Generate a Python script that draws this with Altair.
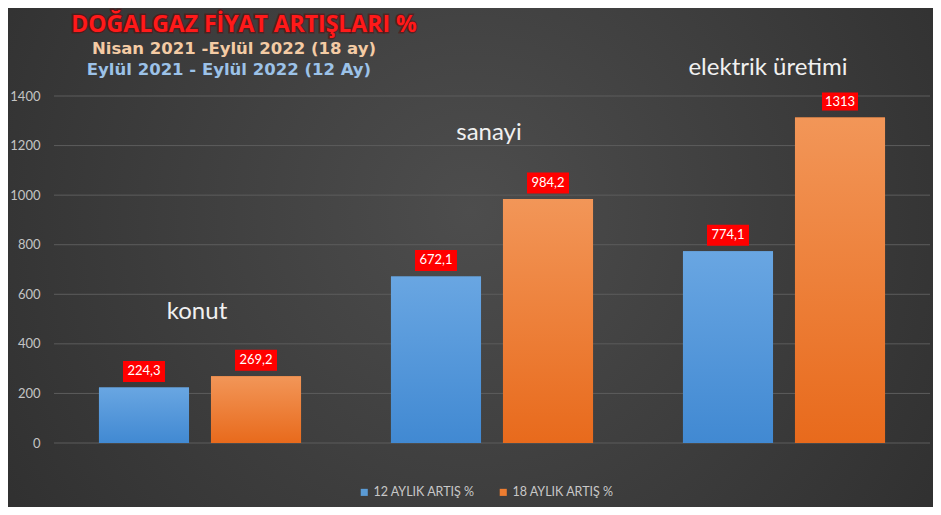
import altair as alt
import pandas as pd

categories = ["konut", "sanayi", "elektrik üretimi"]
series = ["12 AYLIK ARTIŞ %", "18 AYLIK ARTIŞ %"]
values_12 = [224.3, 672.1, 774.1]
values_18 = [269.2, 984.2, 1313]
ann_y = [528, 1251, 1513]
y_ticks = [0, 200, 400, 600, 800, 1000, 1200, 1400]

title_main = "DOĞALGAZ FİYAT ARTIŞLARI %"
title_l2 = "Nisan 2021 -Eylül 2022 (18 ay)"
title_l3 = "Eylül 2021 - Eylül 2022 (12 Ay)"


def fmt(v):
    return f"{v:g}".replace(".", ",")


rows = []
for c, a, b in zip(categories, values_12, values_18):
    rows.append({"cat": c, "series": series[0], "value": a, "label": fmt(a)})
    rows.append({"cat": c, "series": series[1], "value": b, "label": fmt(b)})
df = pd.DataFrame(rows)
ann = pd.DataFrame({"cat": categories, "value": ann_y})
grid = pd.DataFrame({"value": y_ticks})

W, H = 876, 347
PL, PT, PR, PB = 46, 88, 3, 64

x_enc = alt.X("cat:N", sort=categories,
              scale=alt.Scale(domain=categories, paddingInner=0.308, paddingOuter=0.154),
              axis=None)
xo_enc = alt.XOffset("series:N", sort=series,
                     scale=alt.Scale(domain=series, paddingInner=0.196, paddingOuter=0))
y_scale = alt.Scale(domain=[0, 1400], nice=False)
y_axis = alt.Axis(title=None, values=y_ticks, format="d", grid=False, domain=False, ticks=False,
                  labelColor="#c4c4c4", labelFont="Lato", labelFontSize=13,
                  labelPadding=14, zindex=1)
y_enc = alt.Y("value:Q", scale=y_scale, axis=y_axis)

bg = alt.Chart(alt.Data(values=[{}])).mark_rect(
    fill={"gradient": "radial", "x1": 0.5, "y1": 0.45, "r1": 0, "x2": 0.5, "y2": 0.45, "r2": 0.75,
          "stops": [{"offset": 0, "color": "#4d4d4d"}, {"offset": 1, "color": "#292929"}]},
    strokeWidth=0
).encode(x=alt.value(-PL), x2=alt.value(W + PR), y=alt.value(-PT), y2=alt.value(H + PB))

gridlines = alt.Chart(grid).mark_rule(color="#5c5c5c", strokeWidth=1).encode(y=y_enc)

base = alt.Chart(df)

bars = base.mark_bar().encode(
    x=x_enc, xOffset=xo_enc, y=y_enc,
    color=alt.Color("series:N", sort=series,
                    scale=alt.Scale(domain=series, range=["#5b9bd5", "#ed7d31"]),
                    legend=alt.Legend(title=None, orient="none", legendX=304, legendY=390,
                                      direction="horizontal", symbolType="square",
                                      symbolSize=50, symbolStrokeWidth=0,
                                      labelColor="#c8c8c8", labelFont="Lato",
                                      labelFontSize=12.5, labelOffset=3,
                                      columnPadding=22, zindex=1))
)


def grad(top, bottom):
    return {"gradient": "linear", "x1": 0, "y1": 0, "x2": 0, "y2": 1,
            "stops": [{"offset": 0, "color": top}, {"offset": 1, "color": bottom}]}


bars_blue = base.mark_bar(color=grad("#69a6e2", "#4189d2")).encode(
    x=x_enc, xOffset=xo_enc, y=y_enc
).transform_filter(alt.datum.series == series[0])
bars_orange = base.mark_bar(color=grad("#f29658", "#e86a1c")).encode(
    x=x_enc, xOffset=xo_enc, y=y_enc
).transform_filter(alt.datum.series == series[1])

boxes = base.mark_point(
    shape="M-1,-0.5L1,-0.5L1,0.5L-1,0.5Z", filled=True, color="#ff0000",
    opacity=1, strokeWidth=0, yOffset=-16
).encode(
    x=x_enc, xOffset=xo_enc, y=y_enc,
    size=alt.Size("boxsize:Q", scale=None, legend=None)
).transform_calculate(boxsize="pow(6*length(datum.label)+12, 2)")

labels = base.mark_text(
    color="#ffffff", font="Lato", fontSize=13, baseline="middle", yOffset=-16
).encode(
    x=x_enc, xOffset=xo_enc, y=y_enc, text="label:N"
)

ann_base = alt.Chart(ann)
ann_text = ann_base.mark_text(
    color="#f0f0f0", font="Lato", fontSize=24, baseline="middle", dx=-3
).encode(x=x_enc, y=y_enc, text="cat:N").transform_filter(
    alt.datum.cat != categories[2])
ann_text2 = ann_base.mark_text(
    color="#f0f0f0", font="Lato", fontSize=24, baseline="middle", dx=-16
).encode(x=x_enc, y=y_enc, text="cat:N").transform_filter(
    alt.datum.cat == categories[2])

one = alt.Data(values=[{}])
t_glow = alt.Chart(one).mark_text(
    text=title_main, font="Open Sans", fontWeight="bold", fontSize=23,
    color="#8a0000", stroke="#600000", strokeWidth=3, strokeOpacity=0.45, baseline="middle"
).encode(x=alt.value(190), y=alt.value(-71))
t1 = alt.Chart(one).mark_text(
    text=title_main, font="Open Sans", fontWeight="bold", fontSize=23,
    color="#ff1a1a", baseline="middle"
).encode(x=alt.value(190), y=alt.value(-71))
t2 = alt.Chart(one).mark_text(
    text=title_l2, font="DejaVu Sans", fontWeight="bold", fontSize=16.5,
    color="#f4cba4", baseline="middle"
).encode(x=alt.value(180), y=alt.value(-47))
t3 = alt.Chart(one).mark_text(
    text=title_l3, font="DejaVu Sans", fontWeight="bold", fontSize=16.5,
    color="#9cc2e8", baseline="middle"
).encode(x=alt.value(175), y=alt.value(-26))

chart = alt.layer(
    bg, gridlines, bars, bars_blue, bars_orange, boxes, labels, ann_text, ann_text2,
    t_glow, t1, t2, t3
).properties(
    width=W, height=H,
    padding={"left": PL, "top": PT, "right": PR, "bottom": PB},
    autosize=alt.AutoSizeParams(type="none"),
    background="#333333"
).configure_view(stroke=None)

chart.save("out.html", embed_options={"renderer": "svg", "actions": False})
